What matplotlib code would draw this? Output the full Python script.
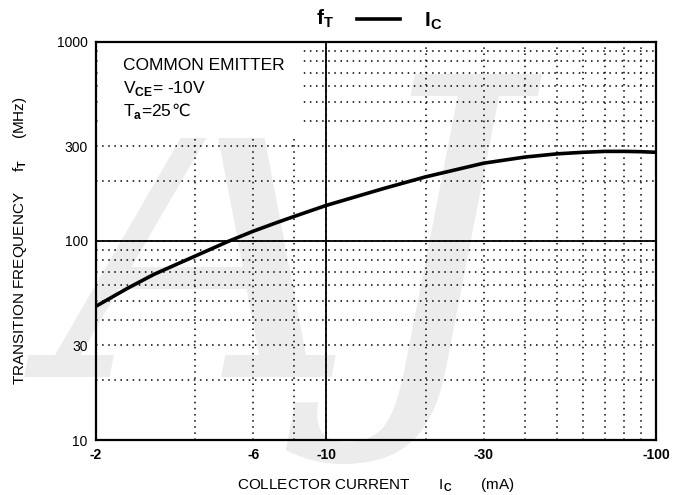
import matplotlib
matplotlib.use('Agg')
import matplotlib.pyplot as plt
from matplotlib.lines import Line2D
from matplotlib.patches import Rectangle
from matplotlib.ticker import FixedLocator, NullFormatter

plt.rcParams['font.family'] = ['Liberation Sans', 'DejaVu Sans']
plt.rcParams['mathtext.fontset'] = 'custom'
plt.rcParams['mathtext.rm'] = 'Liberation Sans'
plt.rcParams['mathtext.bf'] = 'Liberation Sans:bold'

# collector current |Ic| (mA) and transition frequency fT (MHz)
ic = [2, 2.5, 3, 4, 5, 6, 7, 8, 10, 15, 20, 30, 40, 50, 60, 70, 80, 90, 100]
ft = [47, 58, 68, 84, 99, 112, 123, 133, 151, 184, 210, 246, 264, 274, 279, 282, 282, 281, 279]

x_ticks = [2, 6, 10, 30, 100]
x_labels = ['-2', '-6', '-10', '-30', '-100']
x_minor = [4, 8, 20, 40, 50, 60, 70, 80, 90]
y_ticks = [10, 30, 100, 300, 1000]
y_labels = ['10', '30', '100', '300', '1000']
y_minor = [20, 40, 50, 60, 70, 80, 90, 200, 400, 500, 600, 700, 800, 900]

fig = plt.figure(figsize=(6.73, 4.95), dpi=100)
ax = fig.add_axes([0.1426, 0.1111, 0.8321, 0.8041])
ax.set_facecolor('none')
ax.set_axisbelow(True)

# watermark
fig.text(0.43, 0.47, 'AJ', fontsize=300, color='#ececec', family='DejaVu Serif',
         style='italic', ha='center', va='center', zorder=-5)

ax.set_xscale('log')
ax.set_yscale('log')
ax.set_xlim(2, 100)
ax.set_ylim(10, 1000)

ax.xaxis.set_major_locator(FixedLocator(x_ticks))
ax.xaxis.set_minor_locator(FixedLocator(x_minor))
ax.xaxis.set_minor_formatter(NullFormatter())
ax.set_xticklabels(x_labels, fontweight='bold', fontsize=10)
ax.yaxis.set_major_locator(FixedLocator(y_ticks))
ax.yaxis.set_minor_locator(FixedLocator(y_minor))
ax.yaxis.set_minor_formatter(NullFormatter())
ax.set_yticklabels(y_labels, fontsize=10)
ax.tick_params(which='both', length=0, pad=6)

ax.grid(True, which='both', color='black', linestyle=(0, (1, 3)), linewidth=1.1)
ax.axvline(10, color='black', linewidth=1.3, zorder=1)
ax.axhline(100, color='black', linewidth=1.3, zorder=1)

for s in ax.spines.values():
    s.set_linewidth(1.6)

ax.plot(ic, ft, color='black', linewidth=2.6, zorder=3)

# blank area behind the conditions text
ax.add_patch(Rectangle((0.004, 0.76), 0.366, 0.228, transform=ax.transAxes,
                       facecolor='white', edgecolor='none', zorder=1.5))
ax.text(0.048, 0.94, 'COMMON EMITTER', transform=ax.transAxes, fontsize=12.5, va='center', zorder=4)
ax.text(0.048, 0.882, r'V$_{\mathbf{CE}}$= -10V', transform=ax.transAxes, fontsize=12.5, va='center', zorder=4)
t = ax.text(0.048, 0.826, r'T$_{\mathbf{a}}$=25', transform=ax.transAxes, fontsize=12.5, va='center', zorder=4)
ax.annotate('℃', xy=(1, 0.5), xycoords=t, va='center', ha='left', fontsize=12,
            family='DejaVu Sans', zorder=4)

ax.set_xlabel(r'COLLECTOR CURRENT       I$_{\mathbf{C}}$       (mA)', fontsize=11, labelpad=10)
ax.set_ylabel(r'TRANSITION FREQUENCY     f$_{\mathbf{T}}$     (MHz)', fontsize=11, labelpad=20)

# top legend-like title
fig.text(0.483, 0.962, r'$\mathbf{f}_{\mathbf{T}}$', fontsize=15, ha='center', va='center')
fig.add_artist(Line2D([0.531, 0.595], [0.962, 0.962], transform=fig.transFigure,
                      color='black', linewidth=2.6))
fig.text(0.643, 0.958, r'$\mathbf{I}_{\mathbf{C}}$', fontsize=15, ha='center', va='center')

fig.savefig('out.png', dpi=100)
